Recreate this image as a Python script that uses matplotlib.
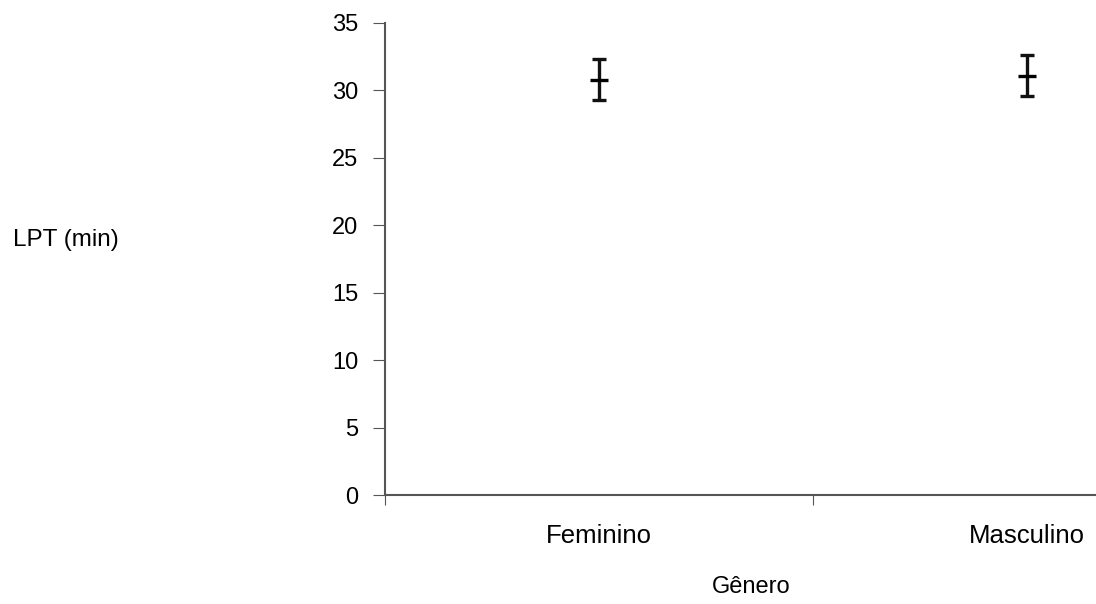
import matplotlib.pyplot as plt

plt.rcParams['font.family'] = ['Liberation Sans', 'DejaVu Sans']

# data
categorias = ["Feminino", "Masculino"]
media = [30.8, 31.1]
erro = [1.5, 1.5]
yticks = [0, 5, 10, 15, 20, 25, 30, 35]

fig = plt.figure(figsize=(10.96, 6.04), dpi=100)
ax = fig.add_axes([0.351, 0.180, 0.781, 0.782])

xpos = [i + 0.5 for i in range(len(categorias))]
ax.errorbar(xpos, media, yerr=erro, fmt='_', color='black', ecolor='#111111',
            markersize=13, markeredgewidth=2.4, elinewidth=2.4, capsize=5, capthick=2.4)

ax.set_xlim(0, 2)
ax.set_ylim(0, 35)
ax.set_yticks(yticks)
ax.set_xticks([0, 1, 2])
ax.set_xticklabels([])
ax.set_xticks(xpos, minor=True)
ax.set_xticklabels(categorias, minor=True, fontsize=18.5)
ax.tick_params(axis='x', which='minor', length=0, pad=21)
ax.tick_params(axis='x', which='major', length=7, color='#555555')
ax.tick_params(axis='y', length=8.5, color='#555555', labelsize=17, pad=10.5)

for s in ['top', 'right']:
    ax.spines[s].set_visible(False)
for s in ['left', 'bottom']:
    ax.spines[s].set_color('#555555')
    ax.spines[s].set_linewidth(1.5)

fig.text(751 / 1096, 1 - 587 / 604, "Gênero", ha='center', va='center', fontsize=17)
fig.text(13 / 1096, 1 - 240 / 604, "LPT (min)", ha='left', va='center', fontsize=17.5)

fig.savefig("out.png", dpi=100)
